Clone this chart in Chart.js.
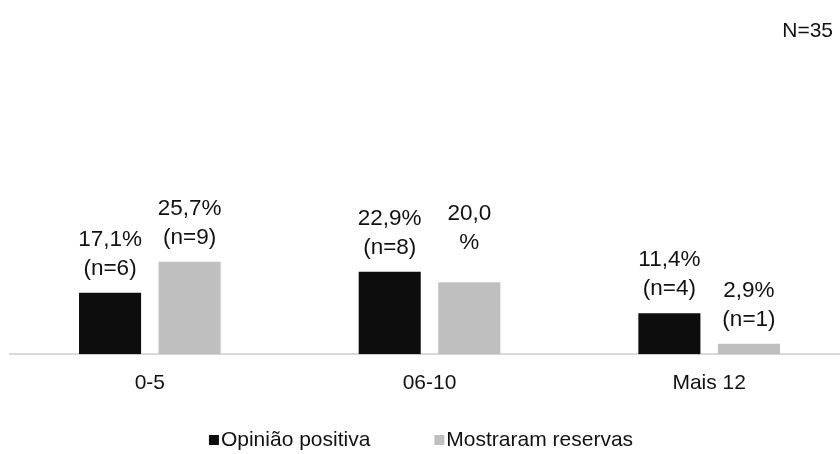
<!DOCTYPE html>
<html>
<head>
<meta charset="utf-8">
<script src="https://cdn.jsdelivr.net/npm/chart.js@4/dist/chart.umd.min.js"></script>
<style>
  html, body { margin: 0; padding: 0; background: #fff; overflow: hidden; }
  #wrap { width: 840px; height: 454px; overflow: hidden; position: relative; }
  canvas { display: block; }
</style>
</head>
<body>
<div id="wrap"><canvas id="c" width="850" height="454"></canvas></div>
<script>
// Categories (years of experience) and the two response groups
const categories = ['0-5', '06-10', 'Mais 12'];
const seriesNames = ['Opinião positiva', 'Mostraram reservas'];

// Percentages and respondent counts per group
const positiva = [17.1, 22.9, 11.4];
const positivaN = [6, 8, 4];
const reservas = [25.7, 20.0, 2.9];
const reservasN = [9, null, 1];

const totalLabel = 'N=35';

const colors = ['#0d0d0d', '#bfbfbf'];
const FONT = '"Liberation Sans", Arial, sans-serif';

function fmt(v) {
  return v.toFixed(1).replace('.', ',');
}

// Text lines for a bar's value label
function labelLines(v, n) {
  if (n == null) return [fmt(v), '%'];
  return [fmt(v) + '%', '(n=' + n + ')'];
}

const counts = [positivaN, reservasN];

const valueLabels = {
  id: 'valueLabels',
  afterDatasetsDraw(chart) {
    const ctx = chart.ctx;
    ctx.save();
    ctx.font = '22.5px ' + FONT;
    ctx.fillStyle = '#111';
    ctx.textAlign = 'center';
    ctx.textBaseline = 'alphabetic';
    const lineH = 29;
    chart.data.datasets.forEach((ds, di) => {
      const meta = chart.getDatasetMeta(di);
      meta.data.forEach((bar, i) => {
        const n = counts[di][i];
        const lines = labelLines(ds.data[i], n);
        let base = bar.y - 18 - (n == null ? 15 : 0);
        for (let k = lines.length - 1; k >= 0; k--) {
          ctx.fillText(lines[k], bar.x, base);
          base -= lineH;
        }
      });
    });
    ctx.restore();
  }
};

const legendAndTotal = {
  id: 'legendAndTotal',
  afterDraw(chart) {
    const ctx = chart.ctx;
    ctx.save();
    ctx.font = '21px ' + FONT;
    ctx.textBaseline = 'middle';
    ctx.fillStyle = '#111';
    // total respondents, top right
    ctx.textAlign = 'right';
    ctx.fillText(totalLabel, 833, 31);
    // legend row
    ctx.textAlign = 'left';
    const box = 10, gap = 2, spacing = 64;
    const widths = seriesNames.map(s => box + gap + ctx.measureText(s).width);
    const total = widths.reduce((a, b) => a + b, 0) + spacing * (widths.length - 1);
    let x = 421 - total / 2;
    const y = 440;
    seriesNames.forEach((s, i) => {
      ctx.fillStyle = colors[i];
      ctx.fillRect(x, y - box / 2, box, box);
      ctx.fillStyle = '#111';
      ctx.fillText(s, x + box + gap, y);
      x += widths[i] + spacing;
    });
    ctx.restore();
  }
};

new Chart(document.getElementById('c'), {
  type: 'bar',
  data: {
    labels: categories,
    datasets: [
      { label: seriesNames[0], data: positiva, backgroundColor: colors[0] },
      { label: seriesNames[1], data: reservas, backgroundColor: colors[1] }
    ]
  },
  options: {
    responsive: false,
    devicePixelRatio: 1,
    animation: false,
    events: [],
    layout: { padding: { left: 10, right: 1, top: 138, bottom: 42.5 } },
    datasets: { bar: { categoryPercentage: 0.569, barPercentage: 0.78 } },
    plugins: { legend: { display: false }, tooltip: { enabled: false } },
    scales: {
      x: {
        grid: { display: false, drawTicks: false },
        border: { display: true, color: '#d9d9d9', width: 2 },
        ticks: { color: '#111', font: { family: FONT, size: 21 }, padding: 16 }
      },
      y: { display: false, min: 0, max: 60 }
    }
  },
  plugins: [valueLabels, legendAndTotal]
});
</script>
</body>
</html>
